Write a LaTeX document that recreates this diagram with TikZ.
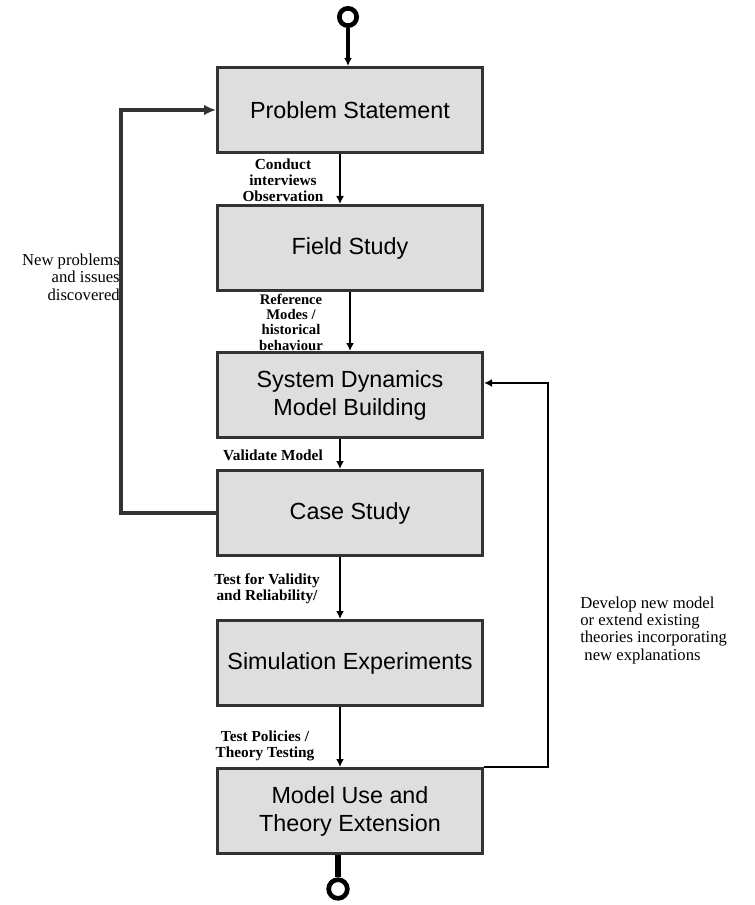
\documentclass[tikz,border=0pt]{standalone}
\usepackage{fontspec}
\setmainfont{Liberation Serif}
\newfontfamily\boxfont{Liberation Sans}
\usetikzlibrary{arrows.meta}
\begin{document}
\begin{tikzpicture}[x=0.75pt,y=-0.75pt,
		stage/.style={draw=black!80,line width=2pt,fill=black!13,minimum width=199pt,minimum height=64pt,align=center,font=\boxfont\fontsize{17.5}{21}\selectfont},
		flow/.style={line width=1.5pt,-{Latex[length=6pt,width=6pt]}},
		feedback/.style={line width=3pt,draw=black!80,-{Latex[length=9pt,width=8pt]}},
		note/.style={align=center,font=\bfseries\fontsize{11.5}{12}\selectfont,inner sep=0pt},
		side/.style={font=\fontsize{12.5}{13}\selectfont,inner sep=0pt}]
		\useasboundingbox (0,0) rectangle (755,905);
		\node[stage] (ps) at (350,110) {Problem Statement};
		\node[stage] (fs) at (350,248) {Field Study};
		\node[stage] (sd) at (350,395) {System Dynamics\\Model Building};
		\node[stage] (cs) at (350,513) {Case Study};
		\node[stage] (sim) at (350,663) {Simulation Experiments};
		\node[stage] (mu) at (350,811) {Model Use and\\Theory Extension};
		\node[circle,draw,line width=3.5pt,minimum size=13pt,inner sep=0pt] (start) at (348,17) {};
		\node[circle,draw,line width=3.5pt,minimum size=14pt,inner sep=0pt] (stop) at (338,889) {};
		\draw[flow,line width=3pt] (start) -- (start |- ps.north);
		\draw[line width=4pt] (mu.south -| stop) -- (stop);
		\draw[flow] ([xshift=-7.5pt]ps.south) -- ([xshift=-7.5pt]fs.north);
		\draw[flow] (fs.south) -- (sd.north);
		\draw[flow] ([xshift=-7.5pt]sd.south) -- ([xshift=-7.5pt]cs.north);
		\draw[flow] ([xshift=-7.5pt]cs.south) -- ([xshift=-7.5pt]sim.north);
		\draw[flow] ([xshift=-7.5pt]sim.south) -- ([xshift=-7.5pt]mu.north);
		\draw[feedback] (cs.west) -- ++(-95,0) |- (ps.west);
		\draw[flow,line width=2pt] (mu.north east) -- ++(64,0) |- ([yshift=9pt]sd.east);
		\node[note] (conduct) at (283,180) {Conduct\\interviews\\Observation};
		\node[note,font=\bfseries\fontsize{11}{11.5}\selectfont] (refmodes) at (291,322) {Reference\\Modes /\\historical\\behaviour};
		\node[note] (validate) at (273,455) {Validate Model};
		\node[note] (testval) at (267,589) {Test for Validity\\and Reliability/};
		\node[note] (testpol) at (265,746) {Test Policies /\\Theory Testing};
		\node[side,align=right,anchor=east] (newprob) at (120,277) {New problems\\and issues\\discovered};
		\node[side,align=left,anchor=west] (develop) at (580,630) {Develop new model\\or extend existing\\theories incorporating\\\ new explanations};
	\end{tikzpicture}
\end{document}
